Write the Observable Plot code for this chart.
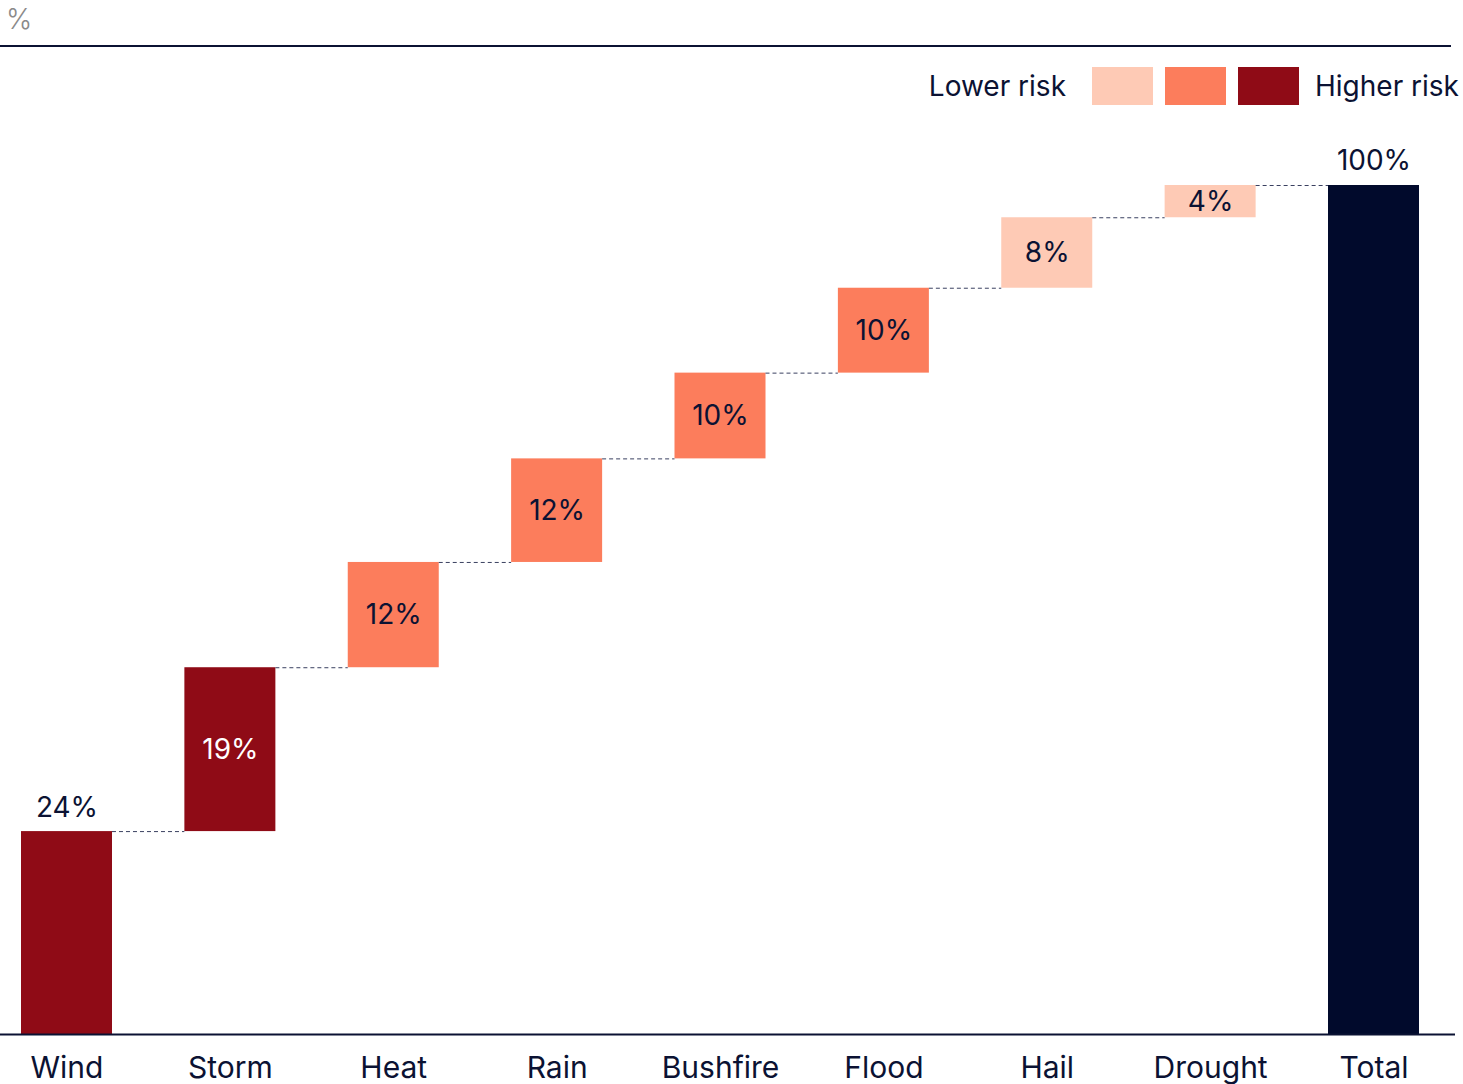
<!DOCTYPE html>
<html>
<head>
<meta charset="utf-8">
<script src="https://cdn.jsdelivr.net/npm/d3@7"></script>
<script src="https://cdn.jsdelivr.net/npm/@observablehq/plot@0.6"></script>
<style>
  html, body { margin: 0; padding: 0; background: #fff; }
  body { width: 1463px; height: 1084px; overflow: hidden; font-family: Inter, "Noto Sans", sans-serif; color: #0B1233; }
  #header { position: relative; height: 120px; }
  #unit { position: absolute; left: 6px; top: 2px; font-size: 28px; color: #8a8a8a; font-weight: 300; }
  #toprule { position: absolute; left: 0; top: 45px; width: 1451px; height: 2px; background: #0B1233; }
  #legend { position: absolute; top: 67px; left: 0; width: 1463px; height: 38px; }
  .lg-text { position: absolute; top: 0; line-height: 38px; font-size: 28px; white-space: nowrap; }
  .sw { position: absolute; top: 0; width: 61px; height: 38px; }
  svg { display: block; }
</style>
</head>
<body>
<div id="header">
  <div id="unit">%</div>
  <div id="toprule"></div>
  <div id="legend"></div>
</div>
<div id="chart"></div>
<script>
// ---- data ----
const categories = ["Wind", "Storm", "Heat", "Rain", "Bushfire", "Flood", "Hail", "Drought"];
const values = [23.9, 19.3, 12.4, 12.2, 10.1, 10.0, 8.3, 3.8];
const riskLevels = ["high", "high", "medium", "medium", "medium", "medium", "low", "low"];
const totalCategory = "Total";
const totalValue = 100;
const legendLow = "Lower risk";
const legendHigh = "Higher risk";

// ---- styles ----
const riskColors = { low: "#FECAB5", medium: "#FC7D5C", high: "#8F0B16", total: "#010A2C" };
const textColor = "#0B1233";

// ---- build rows ----
let cum = 0;
const rows = categories.map((c, i) => {
  const y1 = cum; cum += values[i];
  return { cat: c, y1, y2: cum, value: values[i], risk: riskLevels[i] };
});
rows.push({ cat: totalCategory, y1: 0, y2: totalValue, value: totalValue, risk: "total" });
const domain = rows.map(d => d.cat);

const W = 1463, H = 964, ML = 21, MR = 44, MT = 65, MB = 50;
const padInner = 0.443;
const step = (W - ML - MR) / (domain.length - padInner);
const bw = step * (1 - padInner);

const labelAbove = (d, i) => i === 0 || d.risk === "total";
const rowsAbove = rows.filter(labelAbove);
const rowsInside = rows.filter((d, i) => !labelAbove(d, i));
const connectors = rows.slice(0, -1);

const chart = Plot.plot({
  width: W, height: H,
  marginLeft: ML, marginRight: MR, marginTop: MT, marginBottom: MB,
  style: { fontFamily: "Inter, 'Noto Sans', sans-serif", color: textColor, background: "white" },
  x: { domain, paddingInner: padInner, paddingOuter: 0, round: false, label: null },
  y: { domain: [0, 100], axis: null },
  marks: [
    Plot.barY(rows, { x: "cat", y1: "y1", y2: "y2", fill: d => riskColors[d.risk] }),
    Plot.tickY(connectors, {
      x: "cat", y: "y2", stroke: "#3a4060", strokeWidth: 1, strokeDasharray: "4,3",
      insetLeft: bw, insetRight: -(step - bw)
    }),
    Plot.ruleY([0], { stroke: textColor, strokeWidth: 2, insetLeft: -ML, insetRight: -(MR - 8) }),
    Plot.text(rowsAbove, {
      x: "cat", y: "y2", text: d => Math.round(d.value) + "%",
      dy: -24, fontSize: 28, fill: textColor
    }),
    Plot.text(rowsInside, {
      x: "cat", y: d => (d.y1 + d.y2) / 2, text: d => Math.round(d.value) + "%",
      fontSize: 28, fill: d => d.risk === "high" ? "white" : textColor
    }),
    Plot.axisX({ tickSize: 0, tickPadding: 22, fontSize: 30, label: null, fill: textColor })
  ]
});
document.getElementById("chart").appendChild(chart);

// ---- legend (HTML) ----
const legend = document.getElementById("legend");
const swatchLeft = [1092, 1165, 1238];
const lowText = document.createElement("div");
lowText.className = "lg-text";
lowText.textContent = legendLow;
lowText.style.right = (W - 1066) + "px";
legend.appendChild(lowText);
["low", "medium", "high"].forEach((k, i) => {
  const s = document.createElement("div");
  s.className = "sw";
  s.style.left = swatchLeft[i] + "px";
  s.style.background = riskColors[k];
  legend.appendChild(s);
});
const highText = document.createElement("div");
highText.className = "lg-text";
highText.textContent = legendHigh;
highText.style.left = "1315px";
legend.appendChild(highText);
</script>
</body>
</html>
